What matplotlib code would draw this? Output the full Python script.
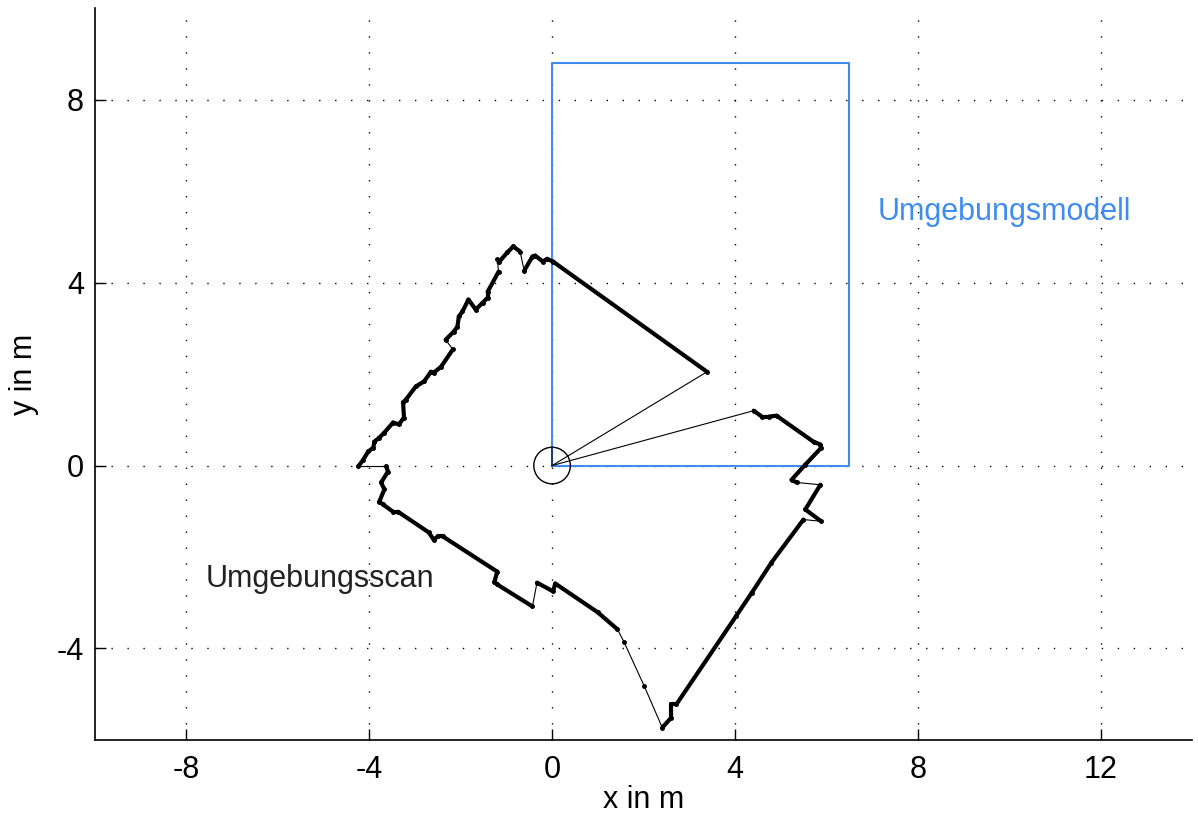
import numpy as np
import matplotlib.pyplot as plt
from matplotlib.collections import LineCollection

plt.rcParams['font.family'] = ['Liberation Sans', 'DejaVu Sans']

# Scan-Konturpunkte (m), Reihenfolge wie vom Scanner geliefert, Start/Ende am Sensor
scan_x = [0.00, 3.39, 0.02, -0.11, -0.20, -0.37, -0.43, -0.61, -0.70, -0.85,
          -0.98, -1.17, -1.20, -1.17, -1.41, -1.41, -1.52, -1.67, -1.83, -1.96,
          -2.04, -2.07, -2.15, -2.33, -2.17, -2.43, -2.59, -2.65, -2.80, -2.98,
          -3.20, -3.26, -3.24, -3.35, -3.48, -3.67, -3.78, -3.89, -3.91, -4.02,
          -4.13, -4.24, -3.63, -3.59, -3.74, -3.67, -3.78, -3.70, -3.48, -3.37,
          -2.70, -2.59, -2.50, -2.39, -1.20, -1.26, -1.20, -0.43, -0.33, 0.02,
          0.07, 1.00, 1.43, 1.57, 2.02, 2.41, 2.61, 2.61, 2.72, 4.02,
          4.37, 4.80, 5.50, 5.89, 5.54, 5.87, 5.35, 5.24, 5.54, 5.89,
          5.87, 5.72, 4.91, 4.74, 4.59, 4.41, 0.00]
scan_y = [0.00, 2.05, 4.46, 4.52, 4.46, 4.59, 4.57, 4.26, 4.68, 4.79,
          4.66, 4.44, 4.52, 4.24, 3.80, 3.67, 3.56, 3.41, 3.63, 3.37,
          3.26, 3.04, 2.93, 2.75, 2.54, 2.16, 2.03, 2.05, 1.84, 1.73,
          1.44, 1.38, 1.05, 0.90, 0.94, 0.72, 0.61, 0.52, 0.39, 0.31,
          0.13, -0.02, -0.02, -0.13, -0.37, -0.52, -0.79, -0.85, -1.01, -1.01,
          -1.46, -1.62, -1.55, -1.55, -2.32, -2.54, -2.60, -3.08, -2.56, -2.75,
          -2.58, -3.21, -3.58, -3.85, -4.83, -5.73, -5.51, -5.22, -5.22, -3.30,
          -2.78, -2.12, -1.18, -1.22, -0.96, -0.42, -0.37, -0.31, 0.02, 0.39,
          0.46, 0.52, 1.09, 1.07, 1.07, 1.20, 0.00]
# Segmente mit Lücken (weit auseinander liegende Messpunkte)
gap_segments = [0, 7, 11, 12, 23, 41, 57, 62, 63, 64, 72, 75, 85]

# Umgebungsmodell: Rechteck
model_x = [0.0, 6.5, 6.5, 0.0, 0.0]
model_y = [0.0, 0.0, 8.8, 8.8, 0.0]

robot_radius = 0.4

blau = '#3f8cf0'
fs = 22

fig = plt.figure(figsize=(11.98, 8.21), dpi=100)
ax = fig.add_axes([0.0793, 0.0987, 0.9157, 0.8913])

ax.plot(model_x, model_y, color=blau, lw=1.5, zorder=2)

pts = np.column_stack([scan_x, scan_y])
segs = [pts[i:i + 2] for i in range(len(pts) - 1)]
widths = [0.8 if i in gap_segments else 3.0 for i in range(len(segs))]
lc = LineCollection(segs, linewidths=widths, colors='black',
                    capstyle='round', joinstyle='round', zorder=3)
ax.add_collection(lc)
ax.plot(scan_x[1:-1], scan_y[1:-1], 'o', color='black', ms=2.5, zorder=3)

kreis = plt.Circle((0, 0), robot_radius, fill=False, color='black', lw=1.0, zorder=4)
ax.add_patch(kreis)
ax.plot([0, 0], [0, robot_radius], color='#1a2a5a', lw=1.2, zorder=4)

ax.text(7.13, 5.55, 'Umgebungsmodell', color=blau, fontsize=fs,
        va='center', ha='left')
ax.text(-7.57, -2.47, 'Umgebungsscan', color='#222222', fontsize=fs,
        va='center', ha='left')

ax.set_xlim(-10, 14)
ax.set_ylim(-6, 10)
ax.set_xticks([-8, -4, 0, 4, 8, 12])
ax.set_yticks([-4, 0, 4, 8])
ax.set_xticklabels(['-8', '-4', '0', '4', '8', '12'])
ax.set_yticklabels(['-4', '0', '4', '8'])
ax.tick_params(direction='in', length=8, width=1, labelsize=fs)
ax.tick_params(axis='x', pad=11)
ax.tick_params(axis='y', pad=8)

ax.grid(True, color='black', lw=1.0, linestyle=(0, (1.0, 10.5)))
ax.set_axisbelow(True)

for s in ['top', 'right']:
    ax.spines[s].set_visible(False)
for s in ['left', 'bottom']:
    ax.spines[s].set_linewidth(1.2)

ax.set_xlabel('x in m', fontsize=fs, labelpad=0)
ax.set_ylabel('y in m', fontsize=fs, labelpad=13)

fig.savefig('out.png', dpi=100, facecolor='white')
